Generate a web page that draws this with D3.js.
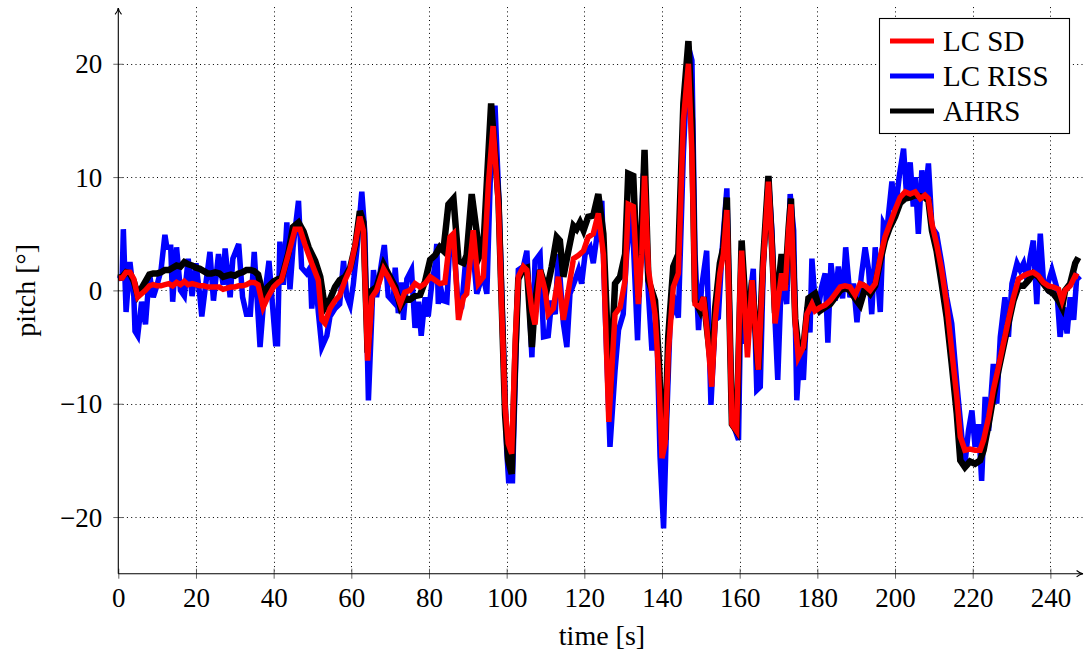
<!DOCTYPE html>
<html>
<head>
<meta charset="utf-8">
<script src="https://cdn.jsdelivr.net/npm/d3@7"></script>
<style>
body{margin:0;background:#fff}
svg text{font-family:"Liberation Serif","Times New Roman",serif;fill:#000}
</style>
</head>
<body>
<svg id="chart" width="1084" height="658"></svg>
<script>
// tick labels
const xTicks = [0,20,40,60,80,100,120,140,160,180,200,220,240]
const yTicks = [-20,-10,0,10,20]

// legend entries (in legend order)
const seriesNames = ["LC SD","LC RISS","AHRS"]

// [time s, pitch deg]
const lcSD = [[0,1.1],[1,1.1],[2,1.6],[3,1.6],[4,1.0],[5,-0.6],[6,-0.3],[7,0.0],[8,0.4],[9,0.5],[10,0.4],[11,0.4],[12,0.5],[13,0.6],[14,0.4],[15,0.7],[16,0.5],[17,0.8],[18,0.5],[19,0.6],[20,0.5],[21,0.4],[22,0.4],[23,0.3],[24,0.3],[25,0.3],[26,0.3],[27,0.1],[28,0.2],[29,0.3],[30,0.3],[31,0.4],[32,0.4],[33,0.5],[34,0.7],[35,0.7],[36,0.5],[37.3,-1.5],[38.5,-0.6],[40,0.3],[41.2,0.7],[42,0.9],[43.8,3.2],[45.5,5.4],[46.8,5.4],[48,4.1],[49.8,2.4],[51.5,0.9],[52.4,-2.6],[53.2,-2.9],[54.5,-1.6],[55.8,-0.9],[57,-0.45],[58.4,0.9],[59.7,1.9],[61,4.0],[62.2,6.5],[63.1,5.3],[64.2,-6.2],[65.3,-0.6],[66.5,0],[68.3,1.9],[69.5,1.2],[71.3,0],[72.6,-1.2],[73.8,-0.15],[75.1,0],[76.4,0.6],[77.7,0.3],[79,0.6],[80.3,1.2],[81.6,0.9],[82.8,0.6],[84.1,0.7],[85.4,4.7],[86.3,5.0],[87.6,-2.6],[88.9,-0.6],[89.7,-0.3],[91.4,5.3],[92.7,0.6],[94,1.2],[95.3,9.4],[96.5,14.5],[97.9,7.4],[98.7,-1.5],[99.6,-10.3],[100.4,-13.5],[101.3,-14.4],[102.2,-4.4],[103,1.2],[104.3,2.1],[105.2,1.8],[106.5,-1.8],[107.3,-3.0],[108.6,1.8],[109.9,0],[110.7,-2.1],[112,-1.6],[113.3,1.2],[114.6,-2.6],[115.9,0],[117.2,2.8],[118.5,3.1],[119.8,3.5],[121,4.7],[122.3,5.0],[123.6,6.8],[124.9,3.2],[126.3,-11.6],[127.9,-2.1],[129.2,-1.5],[130.5,0.9],[131.3,7.6],[132.6,7.4],[133.9,-1.2],[134.8,3.2],[135.5,10.1],[136.5,1.8],[138.2,-2.1],[139.1,-7.1],[140,-14.8],[140.8,-13.5],[141.6,-5.6],[142.9,0.3],[144.2,1.5],[145.5,15.0],[146.8,20.0],[147.7,12.1],[148.5,-1.2],[149.8,-1.5],[150.7,-0.6],[151.5,-3.2],[152.8,-8.5],[153.7,-2.6],[154.9,1.5],[155.8,3.2],[156.7,7.1],[158,-11.8],[159.2,-12.4],[160.1,0.3],[160.5,3.5],[162,-5.9],[163.2,0.9],[164.8,-7.0],[166,2.0],[167.4,9.6],[168.3,3.8],[169.1,-2.9],[170,-0.6],[170.8,1.5],[171.7,0],[172.6,5.3],[173.2,7.6],[174.3,-2.9],[175.1,-5.9],[176.4,-5.0],[177.3,-2.1],[178.6,-1.2],[179.4,-1.8],[180.7,-1.5],[182,-1.3],[183.3,-0.9],[184.6,-0.3],[185.9,0.3],[187.1,0.4],[188.4,0.3],[189.7,-0.4],[191,0.6],[192.3,0.4],[193.6,0],[194.9,0.6],[196.2,2.9],[197.4,4.7],[198.7,5.9],[200,7.1],[201.3,8.2],[202.6,8.7],[203.9,8.5],[205.2,8.7],[206.5,8.1],[207.7,8.4],[208.6,8.1],[209.5,5.9],[210.7,4.1],[212,1.8],[213.3,-1.2],[214.6,-5.3],[215.9,-9.4],[216.8,-12.9],[218,-14.1],[219.3,-14.0],[220.6,-14.1],[221.9,-14.1],[222.8,-13.2],[224.1,-11.2],[225.3,-8.8],[226.6,-6.8],[227.9,-4.7],[229.2,-2.6],[230.5,-0.6],[231.8,1.0],[233.1,1.3],[234.4,1.5],[235.6,1.6],[236.9,1.3],[238.2,0.7],[239.5,0.4],[240.8,0.3],[242.1,0.1],[243,-0.9],[243.8,0],[245.1,0.4],[246.4,1.3],[247.2,1.2]]

const lcRISS = [[0,1.0],[1,1.2],[1.3,5.4],[2,-1.9],[3,2.5],[4,-0.5],[4.3,-3.6],[5,-4.0],[6,-1.0],[7,-3.0],[8,1.5],[9,-0.6],[10,0.5],[11,1.8],[12,4.9],[12.5,3.8],[13.5,3.8],[14,-1.0],[15,3.8],[16,0.0],[17,-0.5],[18,2.8],[19,-0.5],[20,2.4],[21,-0.5],[21.5,-2.3],[22.5,0.5],[23.6,3.4],[24.5,-0.9],[25.8,3.2],[27,0.5],[27.5,3.7],[28.8,-0.6],[29.5,2.8],[31,4.1],[32,-0.6],[33,-2.1],[34,-2.1],[35,3.4],[36.5,-5.0],[37.3,-1.5],[38.8,2.6],[40.5,-4.7],[41,-4.7],[41.6,4.3],[42.5,0.5],[43.4,6.0],[44.2,0.1],[45,3.8],[46.4,7.9],[47.2,2.0],[48.5,1.5],[49.4,2.0],[49.8,-1.6],[50.7,1.5],[51.5,-1.9],[52.4,-5.0],[53.7,-4.0],[54.5,-2.3],[55.8,-1.6],[57,-1.2],[58,2.6],[58.8,-0.5],[59.7,-1.3],[60.5,0.5],[61.4,3.5],[62.7,8.7],[63.5,5.0],[64.4,-9.7],[65.3,-2.0],[65.7,1.8],[66.5,-0.6],[67.8,2.5],[68.5,4.0],[69.5,-0.5],[70.8,-1.0],[71.3,2.0],[72.1,-2.0],[73,0.7],[73.4,-2.6],[74.3,1.0],[75.5,1.8],[76.4,-3.3],[77.3,-1.0],[78,-4.0],[79,-0.6],[79.8,-2.3],[80.7,0.5],[81.6,2.3],[82,4.1],[82.4,-1.2],[82.8,0.6],[83.7,-0.9],[84.6,-1.0],[85.4,4.4],[86.3,4.5],[87.6,-1.8],[88.4,-1.5],[89.3,2.1],[91,4.7],[92.3,-0.3],[93.1,0.6],[94,1.2],[94.9,-0.3],[95.8,10.0],[97,16.3],[98,8.0],[99,-3.0],[100,-14.0],[100.5,-16.8],[101.5,-16.8],[102.2,-8.0],[103,1.8],[104.3,2.1],[105.2,3.5],[106.5,-5.9],[107.3,2.6],[108.6,3.2],[109.5,-4.1],[110.7,-4.0],[111.6,-0.9],[112.5,-2.1],[113.3,3.2],[114.6,-2.9],[115.5,-5.0],[116.3,-0.3],[117.6,0.9],[118.5,1.8],[119.3,0.6],[120.2,3.2],[121.5,3.8],[122.3,2.4],[123.2,4.7],[124.5,7.9],[125.3,-1.2],[126.6,-13.8],[127.9,-7.1],[128.8,-3.5],[130,-2.1],[130.9,3.2],[132.2,7.6],[133.7,-4.4],[135.2,10.3],[136.5,-0.3],[137.4,-5.3],[138.6,-2.6],[139.5,-14.7],[140.4,-21.0],[141.2,-11.5],[142.1,-2.6],[143.4,-1.2],[144.2,-2.4],[145.5,12.1],[146.8,21.5],[147.7,20.3],[148.5,3.2],[149.4,-3.5],[150.2,0.3],[151.5,3.5],[152.6,-10.1],[153.7,-2.6],[154.5,-2.4],[155.4,3.2],[156.7,9.0],[158,-11.5],[159.7,-13.2],[160.5,3.8],[161.4,-4.7],[162.5,-1.0],[163.5,1.9],[164.4,-8.8],[165.3,-8.5],[166.1,2.4],[167.4,10.0],[168.3,5.3],[169.1,-2.6],[169.8,-7.9],[170.8,1.8],[172.1,-1.2],[173,8.5],[173.9,5.3],[174.7,-9.7],[175.6,-4.7],[176.4,-7.9],[177.3,-1.5],[178.1,-3.7],[178.6,2.8],[179.4,-0.9],[180.3,-1.5],[181.1,0.3],[182,1.5],[182.7,-4.6],[183.5,2.4],[184.6,-0.9],[185.4,2.1],[186.5,-0.7],[187.3,3.8],[188.4,-0.6],[189.3,0.6],[190.2,-2.8],[191.3,1.2],[192.3,3.8],[193.2,1.8],[194,-2.1],[194.9,3.8],[196.2,-1.9],[197,5.9],[197.9,5.3],[199.2,9.6],[200,6.8],[201.1,10.1],[202.2,12.5],[203,8.2],[203.9,11.3],[204.7,7.4],[205.2,10.0],[206,5.0],[206.9,10.6],[207.7,8.2],[208.6,11.2],[209.5,5.6],[210.7,5.0],[212,2.4],[213.3,-0.6],[214.6,-2.9],[215.9,-8.2],[217.2,-12.9],[218,-15.3],[218.9,-12.4],[219.8,-10.6],[220.6,-13.8],[221.5,-11.8],[222.3,-16.8],[223.2,-9.4],[224.1,-12.4],[225.3,-6.5],[226.2,-10.0],[227.1,-4.1],[228.3,-0.6],[229.2,-4.1],[230.1,0.6],[231.4,2.4],[232.2,1.8],[233.1,2.4],[234,0.9],[234.8,2.9],[235.6,4.4],[236.5,-1.2],[237.4,5.0],[238.2,0.9],[239.1,0.3],[240.4,1.8],[241.6,0.3],[242.5,-4.1],[243.4,-1.5],[244.3,-3.8],[245.1,-0.6],[246,-2.6],[246.8,1.2],[247.6,0.9]]

const ahrs = [[0,1.1],[1,1.2],[2,1.6],[3,1.5],[4,0.8],[5,-0.4],[6,0.2],[7,0.8],[8,1.4],[9,1.5],[10,1.5],[11,1.6],[12,1.8],[13,1.8],[14,2.0],[15,2.2],[16,2.1],[17,2.5],[18,2.3],[19,2.2],[20,2.0],[21,1.9],[22,1.7],[23,1.5],[24,1.5],[25,1.6],[26,1.5],[27,1.2],[28,1.3],[29,1.4],[30,1.3],[31,1.5],[32,1.6],[33,1.8],[34,1.8],[35,1.7],[36,1.4],[37.3,-0.4],[38.5,0.3],[40,0.8],[41.2,1.0],[42,1.0],[43.8,3.3],[45,5.6],[46.4,6.0],[47.7,5.2],[49,3.8],[50.7,2.6],[52,1.2],[53.2,-1.5],[54.5,-0.8],[55.8,0.3],[57,0.9],[58.4,1.2],[59.7,2.0],[61,3.9],[62.2,7.0],[63.1,6.0],[64.2,-5.5],[65.3,0],[66.5,0.3],[68.3,2.3],[69.5,1.5],[71.3,0.3],[72.6,-1.4],[73.8,-0.7],[75.1,-0.8],[76.4,-0.5],[77.7,-0.4],[79,0.8],[80.3,2.7],[81.6,3.1],[82.8,3.8],[83.7,3.5],[85,7.6],[86.3,8.1],[87.6,2.6],[88.9,2.4],[89.7,3.1],[91,8.5],[92.3,5.1],[93.1,3.1],[94,3.8],[95.3,12.1],[96,16.5],[97.9,8.0],[98.7,-1.0],[99.6,-11.0],[100.4,-15.0],[101.3,-16.2],[102.2,-6.0],[103,1.0],[104.3,1.9],[105.2,2.0],[106.5,-5.0],[107.3,-1.0],[108.6,1.8],[110.3,0],[111.6,2.1],[112.9,4.7],[113.7,4.4],[114.6,1.2],[115.9,3.5],[117.2,5.7],[118,5.4],[118.9,6.0],[119.8,5.3],[121,6.5],[122.3,6.6],[123.6,8.5],[124.9,5.0],[126.6,-9.1],[127.9,0.6],[129.2,1.2],[130.5,3.2],[131.3,10.3],[132.6,10.1],[133.9,-0.6],[134.8,5.6],[135.5,12.4],[136.5,0.9],[138.2,-0.9],[139.1,-5.6],[140,-12.4],[140.8,-13.2],[141.6,-4.1],[142.9,2.1],[144.2,3.2],[145.5,16.5],[146.8,22.0],[147.7,15.0],[148.5,-0.9],[149.8,-1.8],[150.7,-0.6],[151.5,-3.2],[152.8,-7.1],[153.7,-1.5],[154.9,2.4],[155.8,3.8],[156.7,8.2],[158,-11.8],[159.2,-12.4],[160.5,4.4],[162,-4.1],[163.2,0.9],[164.8,-7.0],[166,2.5],[167.4,10.1],[168.3,4.0],[169.1,-2.0],[170,0.5],[170.8,3.2],[171.7,0.5],[172.6,5.5],[173.2,8.1],[174.3,-2.5],[175.1,-5.0],[176.4,-5.0],[177.7,-0.7],[179.4,-0.3],[180.7,-1.8],[182,-1.5],[183.3,-1.2],[184.6,-0.6],[185.9,0.0],[187.1,0.2],[188.4,0.0],[189.7,-0.7],[191,-1.3],[192.3,0.2],[193.6,-0.3],[194.9,0.4],[196.2,2.6],[197.4,4.4],[198.7,5.6],[200,6.5],[201.3,7.7],[202.6,8.1],[203.9,8.2],[205.2,8.4],[206.5,8.3],[207.7,8.2],[208.6,7.9],[209.5,5.3],[210.7,3.5],[212,0.6],[213.3,-2.4],[214.6,-6.5],[215.9,-10.9],[216.8,-15.0],[218,-15.6],[219.3,-15.1],[220.6,-15.3],[221.9,-15.0],[222.8,-14.1],[224.1,-11.8],[225.3,-9.4],[226.6,-7.1],[227.9,-5.0],[229.2,-2.9],[230.5,-0.9],[231.8,0.4],[233.1,0.4],[234.4,0.9],[235.6,1.5],[236.9,1.2],[238.2,0.6],[239.5,0],[240.8,-0.3],[242.1,-0.9],[243,-1.5],[243.8,0],[245.1,0.6],[246.4,2.4],[247.2,2.9]]

const colors = {"LC SD": "#ff0000", "LC RISS": "#0000ff", "AHRS": "#000000"}
const widths = {"LC SD": 5.5, "LC RISS": 5.5, "AHRS": 6.5}

let svg = d3.select("#chart")

// scales
let x = d3.scaleLinear().domain([0, 248.4]).range([118.3, 1083])
let y = d3.scaleLinear().domain([-25, 25]).range([573.7, 7.1])

// grid, dotted
let grid = svg.append("g").attr("class", "grid")
	.attr("stroke", "#000").attr("stroke-width", 1).attr("stroke-dasharray", "1,3.3")

grid.selectAll("line.v")
  .data(xTicks.filter(d => d > 0))
  .enter().append("line")
	.attr("class", "v")
	.attr("x1", d => Math.round(x(d)) + 0.5).attr("x2", d => Math.round(x(d)) + 0.5)
	.attr("y1", y(25)).attr("y2", y(-25))

grid.selectAll("line.h")
  .data(yTicks)
  .enter().append("line")
	.attr("class", "h")
	.attr("y1", d => Math.round(y(d)) + 0.5).attr("y2", d => Math.round(y(d)) + 0.5)
	.attr("x1", x(0)).attr("x2", x(248.4))

// the series: blue below, then black, red on top
let line = d3.line().x(d => x(d[0])).y(d => y(d[1]))
let drawOrder = [["LC RISS", lcRISS], ["AHRS", ahrs], ["LC SD", lcSD]]

svg.append("g").attr("class", "series")
  .selectAll("path")
  .data(drawOrder)
  .enter().append("path")
	.attr("d", d => line(d[1]))
	.attr("fill", "none")
	.attr("stroke", d => colors[d[0]])
	.attr("stroke-width", d => widths[d[0]])
	.attr("stroke-linejoin", "miter")
	.attr("stroke-miterlimit", 4)

// axes (left and bottom, with arrows)
let defs = svg.append("defs")
defs.append("marker")
	.attr("id", "arrow")
	.attr("viewBox", "0 0 10 10")
	.attr("refX", 9).attr("refY", 5)
	.attr("markerWidth", 8).attr("markerHeight", 8)
	.attr("markerUnits", "userSpaceOnUse")
	.attr("orient", "auto")
  .append("path")
	.attr("d", "M1,1 Q5,4.5 9,5 Q5,5.5 1,9")
	.attr("fill", "none").attr("stroke", "#000").attr("stroke-width", 1.4)

let axes = svg.append("g").attr("class", "axes")

let xaxis = d3.axisBottom(x).tickValues(xTicks).tickSize(0).tickPadding(14).tickFormat(d3.format("d"))
let yaxis = d3.axisLeft(y).tickValues(yTicks).tickSize(0).tickPadding(16)
	.tickFormat(d => d < 0 ? "\u2212" + Math.abs(d) : d)

let gx = axes.append("g")
	.attr("transform", "translate(0," + y(-25) + ")")
	.call(xaxis)
let gy = axes.append("g")
	.attr("transform", "translate(" + x(0) + ",0)")
	.call(yaxis)

axes.selectAll(".domain").remove()
axes.selectAll(".tick text").attr("font-size", 27).attr("font-family", "Liberation Serif")
gy.selectAll(".tick text").attr("dy", "0.34em")

// major ticks crossing the axis lines
gx.selectAll(".tick").append("line")
	.attr("y1", -5).attr("y2", 5).attr("stroke", "#555").attr("stroke-width", 0.9)
gy.selectAll(".tick").append("line")
	.attr("x1", -5).attr("x2", 5).attr("stroke", "#555").attr("stroke-width", 0.9)

axes.append("line")
	.attr("x1", x(0)).attr("x2", 1083)
	.attr("y1", y(-25)).attr("y2", y(-25))
	.attr("stroke", "#000").attr("stroke-width", 1.1)
	.attr("marker-end", "url(#arrow)")
axes.append("line")
	.attr("x1", x(0)).attr("x2", x(0))
	.attr("y1", y(-25)).attr("y2", 8)
	.attr("stroke", "#000").attr("stroke-width", 1.1)
	.attr("marker-end", "url(#arrow)")

// axis labels
svg.append("text")
	.attr("x", 602).attr("y", 645)
	.attr("text-anchor", "middle").attr("font-size", 28)
	.text("time [s]")
svg.append("text")
	.attr("transform", "translate(35," + y(0) + ") rotate(-90)")
	.attr("text-anchor", "middle").attr("font-size", 28)
	.text("pitch [°]")

// legend
let legend = svg.append("g").attr("class", "legend")
legend.append("rect")
	.attr("x", 879.5).attr("y", 18.5).attr("width", 190).attr("height", 115)
	.attr("fill", "#fff").attr("stroke", "#000").attr("stroke-width", 1.1)

let rows = legend.selectAll("g.row")
  .data(seriesNames)
  .enter().append("g")
	.attr("class", "row")
	.attr("transform", (d, i) => "translate(0," + (41 + i * 35) + ")")
rows.append("line")
	.attr("x1", 890).attr("x2", 934).attr("y1", 0).attr("y2", 0)
	.attr("stroke", d => colors[d]).attr("stroke-width", 5)
rows.append("text")
	.attr("x", 943).attr("y", 10)
	.attr("font-size", 29)
	.text(d => d)
</script>
</body>
</html>
